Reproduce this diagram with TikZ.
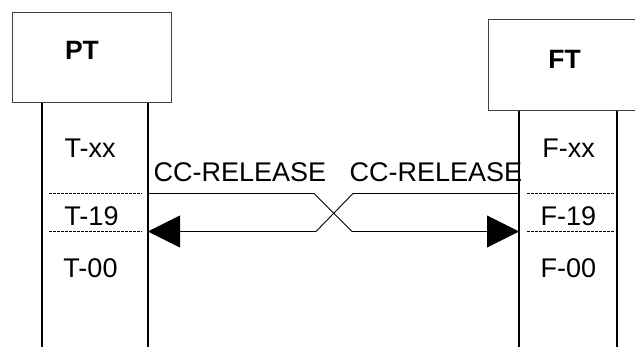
\documentclass[tikz,border=0pt]{standalone}
\usepackage{fontspec}
\setmainfont{Liberation Sans}
\usepackage{tikz}
\usetikzlibrary{arrows.meta}
\tikzstyle{box} = [draw=black!75, line width=1pt, inner sep=0pt]
\tikzstyle{life} = [line width=2pt]
\tikzstyle{state} = [anchor=base, inner sep=0pt, font=\fontsize{27}{32}\selectfont]
\tikzstyle{cut} = [line width=1.3pt, dash pattern=on 3pt off 1pt]
\tikzstyle{msg} = [line width=0.9pt, -{Triangle[length=32pt,width=32pt]}]

\begin{document}
\begin{tikzpicture}[x=1pt, y=-1pt]
\useasboundingbox (0,0) rectangle (635,347);

\node (PT) [box, minimum width=159pt, minimum height=90pt] at (91.5,58) {};
\node (PT name) [font=\fontsize{26.5}{31}\selectfont\bfseries] at (82,50.5) {PT};
\node (FT) [box, minimum width=148pt, minimum height=91pt] at (562,65.5) {};
\node (FT name) [font=\fontsize{26.5}{31}\selectfont\bfseries] at (564.5,59) {FT};

\draw [life] ([xshift=30pt]PT.south west) -- ++(0,244);
\draw [life] ([xshift=136pt]PT.south west) -- ++(0,244);
\draw [life] ([xshift=31pt]FT.south west) -- ++(0,236);
\draw [life] ([xshift=129pt]FT.south west) -- ++(0,236);

\node (T-xx) [state] at (90,158) {T-xx};
\node (T-19) [state] at (91.5,226) {T-19};
\node (T-00) [state] at (90.5,278) {T-00};
\node (F-xx) [state] at (568.5,158) {F-xx};
\node (F-19) [state] at (568.5,226) {F-19};
\node (F-00) [state] at (568.5,278) {F-00};

\draw [cut] (49,193.5) -- (142,193.5);
\draw [cut] (49,231.5) -- (142,231.5);
\draw [cut] (527,193.5) -- (615,193.5);
\draw [cut] (527,231.5) -- (615,231.5);

% message exchange, crossing in the middle
\coordinate (PT out) at (148,193.5);
\coordinate (PT in) at (148,231.5);
\coordinate (FT out) at (519,193.5);
\coordinate (FT in) at (519,231.5);
\draw [msg] (PT out) -- (314,193.5) -- (352,231.5) -- (FT in);
\draw [msg] (FT out) -- (353,193.5) -- (316,231.5) -- (PT in);

\node (PT req) [state] at (240,182) {CC-RELEASE};
\node (FT req) [state] at (436,182) {CC-RELEASE};

\end{tikzpicture}
\end{document}
